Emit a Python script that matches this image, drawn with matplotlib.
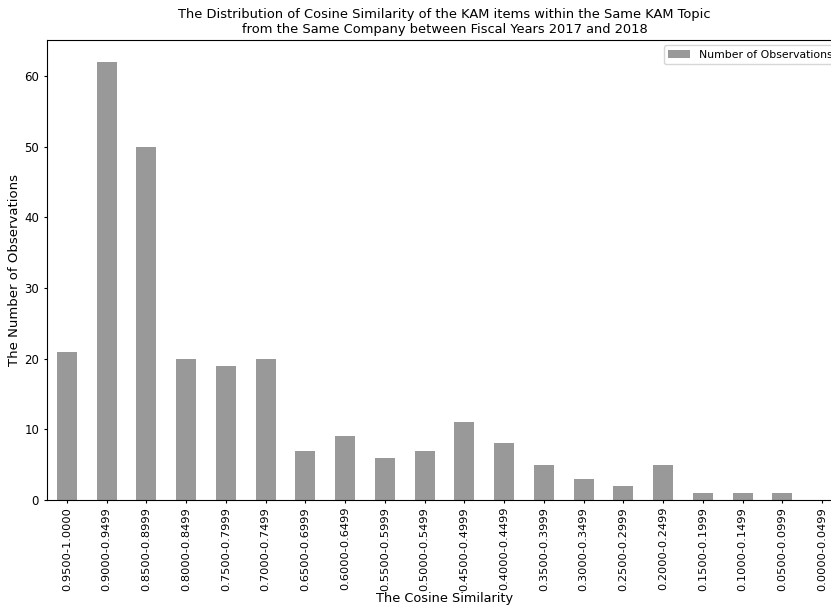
import matplotlib
matplotlib.use("Agg")
import matplotlib.pyplot as plt
import numpy as np

categories = ["0.9500-1.0000", "0.9000-0.9499", "0.8500-0.8999", "0.8000-0.8499",
              "0.7500-0.7999", "0.7000-0.7499", "0.6500-0.6999", "0.6000-0.6499",
              "0.5500-0.5999", "0.5000-0.5499", "0.4500-0.4999", "0.4000-0.4499",
              "0.3500-0.3999", "0.3000-0.3499", "0.2500-0.2999", "0.2000-0.2499",
              "0.1500-0.1999", "0.1000-0.1499", "0.0500-0.0999", "0.0000-0.0499"]
counts = [21, 62, 50, 20, 19, 20, 7, 9, 6, 7, 11, 8, 5, 3, 2, 5, 1, 1, 1, 0]

fig = plt.figure(figsize=(8.31, 6.07), dpi=100)
ax = fig.add_axes([47/831, 1 - 500/607, (842 - 47)/831, (500 - 40)/607])
x = np.arange(len(categories))
ax.bar(x, counts, width=0.5, color="grey", alpha=0.8, label="Number of Observations")
ax.set_xlim(-0.5, len(categories) - 0.5)
ax.set_ylim(0, max(counts) * 1.05)
ax.set_xticks(x)
ax.set_xticklabels(categories, rotation=90, fontsize=8.2)
ax.tick_params(axis="both", length=2.5)
ax.tick_params(axis="x", pad=2.5)
ax.tick_params(axis="y", labelsize=8.5, pad=3.2)
ax.set_xlabel("The Cosine Similarity", fontsize=9.3, labelpad=1)
ax.set_ylabel("The Number of Observations", fontsize=9.5, labelpad=2)
ax.set_title("The Distribution of Cosine Similarity of the KAM items within the Same KAM Topic\n"
             "from the Same Company between Fiscal Years 2017 and 2018", fontsize=9.4, pad=5)
ax.legend(loc="upper right", fontsize=7.8)
fig.savefig("out.png", dpi=100)
